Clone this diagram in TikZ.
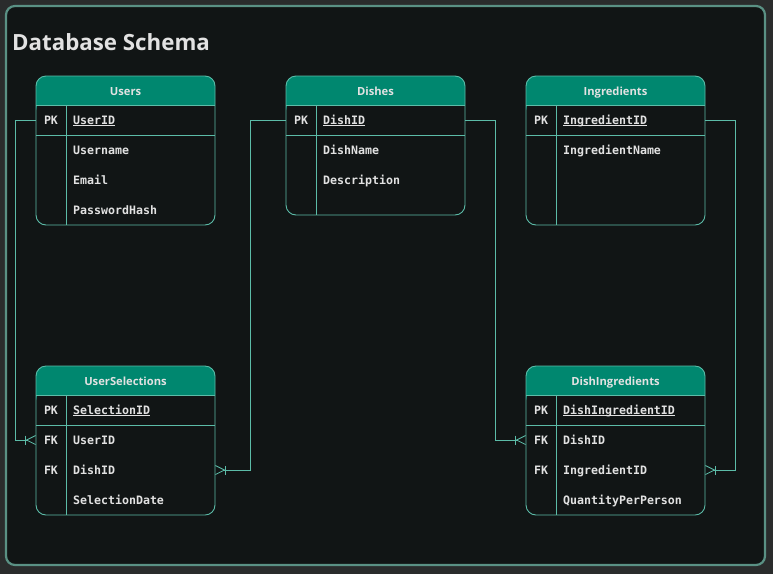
\documentclass[tikz,border=0pt]{standalone}
\usepackage{fontspec}
\setmainfont{Open Sans}[BoldFont={Open Sans Bold}]
\newfontfamily\codefont{DejaVu Sans Mono}[BoldFont={DejaVu Sans Mono Bold}]
\usetikzlibrary{arrows.meta}

\definecolor{pagebg}{HTML}{2A2C2C}
\definecolor{canvas}{HTML}{111515}
\definecolor{frameline}{HTML}{5A9184}
\definecolor{hdrteal}{HTML}{00876F}
\definecolor{tblline}{HTML}{5CBCA8}
\definecolor{txt}{HTML}{E2E2E2}

\tikzset{
  tbl/.style={draw=tblline, line width=0.9pt, rounded corners=10pt},
  hdr/.style={text=txt, font=\bfseries\fontsize{11.2}{12}\selectfont, anchor=base},
  key/.style={text=txt, font=\codefont\bfseries\fontsize{11.6}{12}\selectfont, anchor=base},
  fld/.style={text=txt, font=\codefont\bfseries\fontsize{11.6}{12}\selectfont, anchor=base west, inner sep=0pt},
  pkfld/.style={fld, underline},
  underline/.style={append after command={
      ([yshift=-1.5pt]\tikzlastnode.base west) edge[draw=txt, line width=0.9pt] ([yshift=-1.5pt]\tikzlastnode.base east)}},
  rel/.style={draw=tblline, line width=0.8pt,
    -{Bar[width=9pt,sep=0pt] Straight Barb[reversed,length=9pt,width=9pt]}}
}

% #1 name  #2 left  #3 top  #4 title  #5 box height
\newcommand{\entity}[5]{%
  \fill[hdrteal, rounded corners=10pt] (#2,#3) rectangle ++(179,40);
  \fill[canvas] (#2+0.5,#3+29.5) rectangle ++(178,15);
  \draw[tbl] (#2,#3) rectangle ++(179,#5);
  \draw[draw=tblline, line width=0.9pt] (#2,#3+29.5) -- ++(179,0)
      (#2,#3+59.5) -- ++(179,0)
      (#2+30,#3+29.5) -- (#2+30,#3+#5);
  \node[hdr] (#1-h) at (#2+89.5,#3+19) {#4};
}

\begin{document}
\begin{tikzpicture}[x=1pt,y=-1pt]
  \useasboundingbox (0,0) rectangle (773,574);
  \fill[pagebg] (0,0) rectangle (773,574);
  \draw[frameline, fill=canvas, line width=2.2pt, rounded corners=9pt] (6,6) rectangle (765,565);

  \node[anchor=base west, text=txt, font=\bfseries\fontsize{22.3}{24}\selectfont, inner sep=0pt]
    (title) at (12,50) {Database Schema};

  %TABLES
  \entity{users}{36}{76}{Users}{149}
  \entity{dishes}{286}{76}{Dishes}{139}
  \entity{ingr}{526}{76}{Ingredients}{149}
  \entity{sel}{36}{366}{UserSelections}{149}
  \entity{dishingr}{526}{366}{DishIngredients}{149}

  %Users
  \node[key] (users-k1) at (51,124) {PK};
  \node[pkfld] (users-f1) at (73,124) {UserID};
  \node[fld] (users-f2) at (73,154) {Username};
  \node[fld] (users-f3) at (73,184) {Email};
  \node[fld] (users-f4) at (73,214) {PasswordHash};

  %Dishes
  \node[key] (dishes-k1) at (301,124) {PK};
  \node[pkfld] (dishes-f1) at (323,124) {DishID};
  \node[fld] (dishes-f2) at (323,154) {DishName};
  \node[fld] (dishes-f3) at (323,184) {Description};

  %Ingredients
  \node[key] (ingr-k1) at (541,124) {PK};
  \node[pkfld] (ingr-f1) at (563,124) {IngredientID};
  \node[fld] (ingr-f2) at (563,154) {IngredientName};

  %UserSelections
  \node[key] (sel-k1) at (51,414) {PK};
  \node[key] (sel-k2) at (51,444) {FK};
  \node[key] (sel-k3) at (51,474) {FK};
  \node[pkfld] (sel-f1) at (73,414) {SelectionID};
  \node[fld] (sel-f2) at (73,444) {UserID};
  \node[fld] (sel-f3) at (73,474) {DishID};
  \node[fld] (sel-f4) at (73,504) {SelectionDate};

  %DishIngredients
  \node[key] (dishingr-k1) at (541,414) {PK};
  \node[key] (dishingr-k2) at (541,444) {FK};
  \node[key] (dishingr-k3) at (541,474) {FK};
  \node[pkfld] (dishingr-f1) at (563,414) {DishIngredientID};
  \node[fld] (dishingr-f2) at (563,444) {DishID};
  \node[fld] (dishingr-f3) at (563,474) {IngredientID};
  \node[fld] (dishingr-f4) at (563,504) {QuantityPerPerson};

  %row ends on the table edges
  \coordinate (users-pk) at (36,120);
  \coordinate (dishes-pkl) at (286,120);
  \coordinate (dishes-pkr) at (465,120);
  \coordinate (ingr-pk) at (705,120);
  \coordinate (sel-user) at (36,440);
  \coordinate (sel-dish) at (215,470);
  \coordinate (dishingr-dish) at (526,440);
  \coordinate (dishingr-ingr) at (705,470);

  %RELATIONS
  \draw[rel] (users-pk) -- ++(-21,0) |- (sel-user);
  \draw[rel] (dishes-pkl) -- ++(-36,0) |- (sel-dish);
  \draw[rel] (dishes-pkr) -- ++(30,0) |- (dishingr-dish);
  \draw[rel] (ingr-pk) -- ++(30,0) |- (dishingr-ingr);
\end{tikzpicture}
\end{document}
